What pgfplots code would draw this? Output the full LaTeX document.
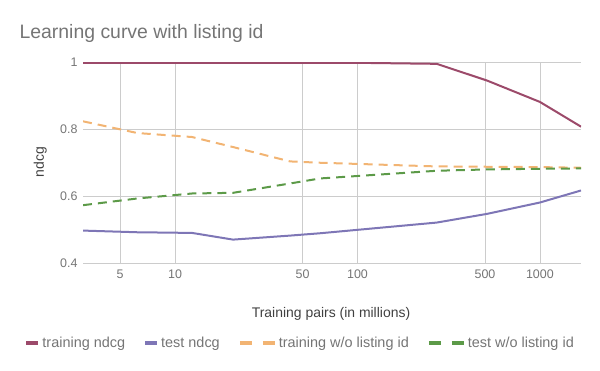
\documentclass[border=0pt]{standalone}
\usepackage{pgfplots}
\pgfplotsset{compat=1.18}
\usepackage{fontspec}
\setmainfont{Liberation Sans}
\definecolor{cTrain}{HTML}{9C4A6A}
\definecolor{cTest}{HTML}{7E76B6}
\definecolor{cTrainNo}{HTML}{F2B473}
\definecolor{cTestNo}{HTML}{5C9A48}
\definecolor{gridc}{HTML}{CCCCCC}
\definecolor{txt}{HTML}{757575}
\begin{document}
\begin{tikzpicture}
\useasboundingbox (0bp,0bp) rectangle (600bp,371bp);
\begin{axis}[at={(83bp,108bp)}, anchor=south west, scale only axis,
  width=498bp, height=200.5bp,
  xmode=log, xmin=3.13, xmax=1680, ymin=0.4, ymax=1,
  xtick={5,10,50,100,500,1000}, xticklabels={5,10,50,100,500,1000},
  ytick={0.4,0.6,0.8,1}, yticklabels={0.4,0.6,0.8,1},
  grid=major, major grid style={draw=gridc, line width=0.8bp},
  axis line style={draw=none}, major tick length=0pt, minor tick num=0,
  /pgf/number format/assume math mode=true,
  tick label style={font=\fontsize{12.5}{14}\selectfont, text=txt},
  yticklabel style={xshift=-2bp},
  xticklabel style={yshift=-3bp},
  title={Learning curve with listing id},
  title style={at={(rel axis cs:-0.1345,1.117)}, anchor=west, font=\fontsize{19.5}{22}\selectfont, text=txt},
  xlabel={Training pairs (in millions)},
  xlabel style={at={(rel axis cs:0.498,-0.254)}, anchor=center, font=\fontsize{14}{16}\selectfont, text=black!75},
  ylabel={ndcg},
  ylabel style={at={(rel axis cs:-0.086,0.504)}, anchor=center, rotate=0, font=\fontsize{14}{16}\selectfont, text=black!75},
  legend columns=4,
  legend style={at={(rel axis cs:0.436,-0.399)}, anchor=center, draw=none, fill=none,
    font=\fontsize{14.5}{16}\selectfont, text=txt,
    /tikz/every even column/.append style={column sep=16bp}},
]
\addplot[cTrain, line width=2bp,
  legend image code/.code={\draw[line width=4bp,solid] (0bp,0bp) -- (12bp,0bp);}]
  coordinates {(3.13,0.999) (6.2,0.999) (12.4,0.999) (20.8,0.999) (42.7,0.999) (62.4,0.999) (100,0.999) (272,0.996) (513,0.946) (1000,0.882) (1680,0.808)};
\addlegendentry{training ndcg}
\addplot[cTest, line width=2bp,
  legend image code/.code={\draw[line width=4bp,solid] (0bp,0bp) -- (12bp,0bp);}]
  coordinates {(3.13,0.497) (6.2,0.492) (12.4,0.490) (20.8,0.470) (42.7,0.482) (62.4,0.489) (272,0.521) (513,0.547) (1000,0.581) (1680,0.617)};
\addlegendentry{test ndcg}
\addplot[cTrainNo, line width=2bp, dash pattern=on 9bp off 6bp,
  legend image code/.code={\draw[line width=4bp,solid] (0bp,0bp) -- (12bp,0bp) (23bp,0bp) -- (35bp,0bp);}]
  coordinates {(3.13,0.824) (6.2,0.789) (12.4,0.777) (20.8,0.747) (42.7,0.704) (62.4,0.700) (272,0.689) (513,0.688) (1000,0.687) (1680,0.685)};
\addlegendentry{training w/o listing id}
\addplot[cTestNo, line width=2bp, dash pattern=on 9bp off 6bp,
  legend image code/.code={\draw[line width=4bp,solid] (0bp,0bp) -- (12bp,0bp) (23bp,0bp) -- (35bp,0bp);}]
  coordinates {(3.13,0.573) (6.2,0.593) (12.4,0.608) (20.8,0.610) (42.7,0.638) (62.4,0.653) (272,0.676) (513,0.680) (1000,0.682) (1680,0.683)};
\addlegendentry{test w/o listing id}
\end{axis}
\end{tikzpicture}
\end{document}
